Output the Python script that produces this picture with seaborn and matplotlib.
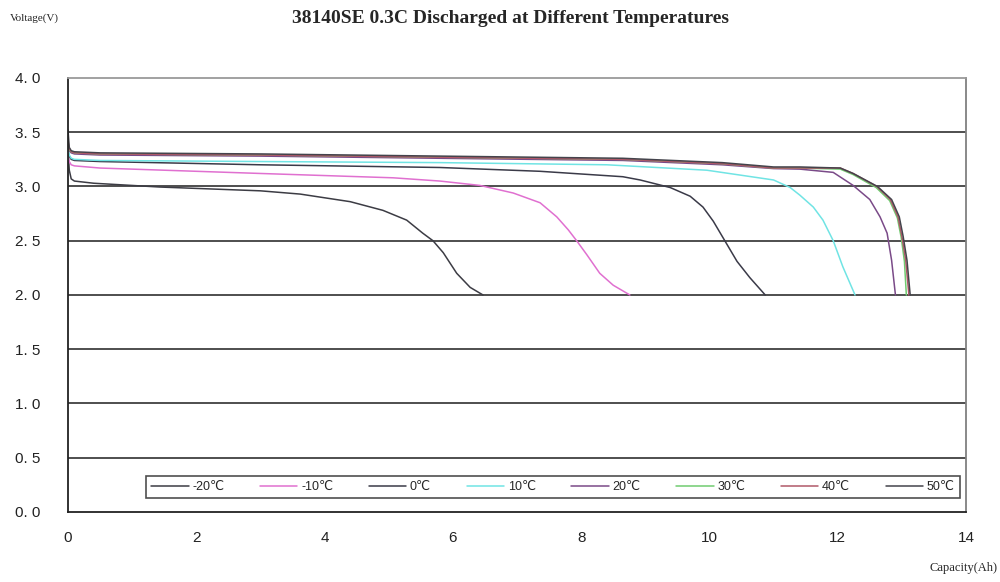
"""38140SE discharge curves at 0.3C for several temperatures."""

import matplotlib

matplotlib.use("Agg")
import matplotlib.pyplot as plt
import pandas as pd
import seaborn as sns

# --- donnees ---
temps = ["-20℃", "-10℃", "0℃", "10℃", "20℃", "30℃", "40℃", "50℃"]
colors = ["#3c3c44", "#e070d0", "#3a3a48", "#70e4e4", "#7a4a88", "#70cc70", "#b05868", "#44444c"]

cap_m20 = [0.0, 0.02, 0.05, 0.1, 0.4, 1.43, 3.0, 3.62, 4.4, 4.91, 5.28, 5.53, 5.69,
           5.85, 6.06, 6.27, 6.47]
volt_m20 = [3.34, 3.15, 3.07, 3.05, 3.03, 2.995, 2.96, 2.93, 2.86, 2.78, 2.69, 2.57, 2.50,
            2.39, 2.20, 2.07, 2.0]

cap_m10 = [0.0, 0.02, 0.05, 0.1, 0.5, 3.0, 5.07, 5.8, 6.42, 6.94, 7.36, 7.62, 7.8,
           7.93, 8.09, 8.29, 8.5, 8.76]
volt_m10 = [3.28, 3.23, 3.2, 3.19, 3.17, 3.12, 3.08, 3.05, 3.01, 2.94, 2.85, 2.72, 2.60,
            2.50, 2.37, 2.20, 2.09, 2.0]

cap_0 = [0.0, 0.02, 0.05, 0.1, 0.5, 3.0, 5.8, 7.36, 8.65, 8.92, 9.39, 9.7, 9.9, 10.06,
         10.24, 10.43, 10.63, 10.87]
volt_0 = [3.33, 3.28, 3.25, 3.24, 3.23, 3.2, 3.175, 3.14, 3.09, 3.06, 2.99, 2.91, 2.81, 2.68,
          2.50, 2.31, 2.16, 2.0]

cap_10 = [0.0, 0.02, 0.05, 0.1, 0.5, 3.0, 5.8, 8.4, 9.96, 11.0, 11.26, 11.41, 11.62,
          11.77, 11.93, 12.08, 12.27]
volt_10 = [3.35, 3.29, 3.26, 3.25, 3.24, 3.23, 3.22, 3.2, 3.15, 3.06, 2.99, 2.92, 2.81,
           2.69, 2.50, 2.26, 2.0]

cap_20 = [0.0, 0.02, 0.05, 0.1, 0.5, 3.0, 5.8, 8.65, 10.2, 11.0, 11.41, 11.93, 12.24,
          12.5, 12.66, 12.77, 12.84, 12.9]
volt_20 = [3.38, 3.33, 3.31, 3.30, 3.29, 3.28, 3.26, 3.24, 3.2, 3.165, 3.16, 3.13, 3.01,
           2.88, 2.72, 2.57, 2.32, 2.0]

cap_30 = [0.0, 0.02, 0.05, 0.1, 0.5, 3.0, 5.8, 8.65, 10.2, 11.0, 11.41, 12.04, 12.24,
          12.6, 12.81, 12.93, 12.99, 13.04, 13.07]
volt_30 = [3.4, 3.34, 3.32, 3.31, 3.3, 3.29, 3.27, 3.25, 3.21, 3.17, 3.17, 3.16, 3.11,
           2.99, 2.87, 2.71, 2.53, 2.31, 2.0]

cap_40 = [0.0, 0.02, 0.05, 0.1, 0.5, 3.0, 5.8, 8.65, 10.2, 11.0, 11.41, 12.04, 12.24,
          12.61, 12.82, 12.94, 13.0, 13.06, 13.11]
volt_40 = [3.42, 3.35, 3.32, 3.31, 3.3, 3.29, 3.27, 3.25, 3.21, 3.17, 3.17, 3.17, 3.12,
           3.0, 2.88, 2.72, 2.54, 2.32, 2.0]

cap_50 = [0.0, 0.02, 0.05, 0.1, 0.5, 3.0, 5.8, 8.65, 10.2, 11.0, 11.41, 12.04, 12.24,
          12.62, 12.84, 12.96, 13.02, 13.08, 13.13]
volt_50 = [3.52, 3.36, 3.33, 3.32, 3.31, 3.3, 3.28, 3.26, 3.22, 3.18, 3.18, 3.17, 3.12,
           3.0, 2.88, 2.72, 2.54, 2.32, 2.0]

caps = [cap_m20, cap_m10, cap_0, cap_10, cap_20, cap_30, cap_40, cap_50]
volts = [volt_m20, volt_m10, volt_0, volt_10, volt_20, volt_30, volt_40, volt_50]

x_ticks = [0, 2, 4, 6, 8, 10, 12, 14]
y_ticks = [0.0, 0.5, 1.0, 1.5, 2.0, 2.5, 3.0, 3.5, 4.0]
y_labels = ["0. 0", "0. 5", "1. 0", "1. 5", "2. 0", "2. 5", "3. 0", "3. 5", "4. 0"]

# table longue pour seaborn
frames = []
for t, c, v in zip(temps, caps, volts):
    frames.append(pd.DataFrame({"cap": c, "volt": v, "temp": t}))
df = pd.concat(frames, ignore_index=True)

sns.set_style("white")
plt.rcParams["font.family"] = ["Liberation Sans Narrow", "Liberation Sans", "DejaVu Sans"]

fig = plt.figure(figsize=(10, 5.82), dpi=100)
ax = fig.add_axes([0.068, 0.1203, 0.898, 0.7457])

for y in [0.5, 1.0, 1.5, 2.0, 2.5, 3.0, 3.5]:
    ax.axhline(y, color="#404040", lw=1.3, zorder=0)

sns.lineplot(
    data=df, x="cap", y="volt", hue="temp", estimator=None, sort=False,
    palette=colors, hue_order=temps, linewidth=1.1, ax=ax,
)

ax.set_xlim(0, 14)
ax.set_ylim(0, 4.0)
ax.set_xticks(x_ticks)
ax.set_xticklabels([str(t) for t in x_ticks], fontsize=11, color="#222222")
ax.set_yticks(y_ticks)
ax.set_yticklabels(y_labels, fontsize=11, color="#222222")
ax.tick_params(axis="x", direction="in", length=6, width=1, color="#333333", pad=14)
ax.tick_params(axis="y", length=0, pad=20)
ax.set_xlabel("")
ax.set_ylabel("")

ax.spines["left"].set_color("#222222")
ax.spines["bottom"].set_color("#222222")
ax.spines["top"].set_color("#9a9a9a")
ax.spines["right"].set_color("#808080")
for s in ax.spines.values():
    s.set_linewidth(1.3)

handles, labels = ax.get_legend_handles_labels()
leg = ax.legend(
    handles, labels, loc="lower left", bbox_to_anchor=(0.087, 0.032, 0.906, 0.069),
    mode="expand", ncol=8, fontsize=9, frameon=True, fancybox=False,
    handlelength=3, handletextpad=0.3, borderaxespad=0,
)
leg.get_frame().set_edgecolor("#222222")
leg.get_frame().set_linewidth(1.2)

fig.text(0.51, 0.968, "38140SE 0.3C Discharged at Different Temperatures",
         ha="center", va="center", fontsize=14, fontweight="bold",
         family="Liberation Serif")
fig.text(0.01, 0.968, "Voltage(V)", ha="left", va="center", fontsize=8,
         family="Liberation Serif")
fig.text(0.997, 0.024, "Capacity(Ah)", ha="right", va="center", fontsize=9,
         family="Liberation Serif")

fig.savefig("out.png", dpi=100)
